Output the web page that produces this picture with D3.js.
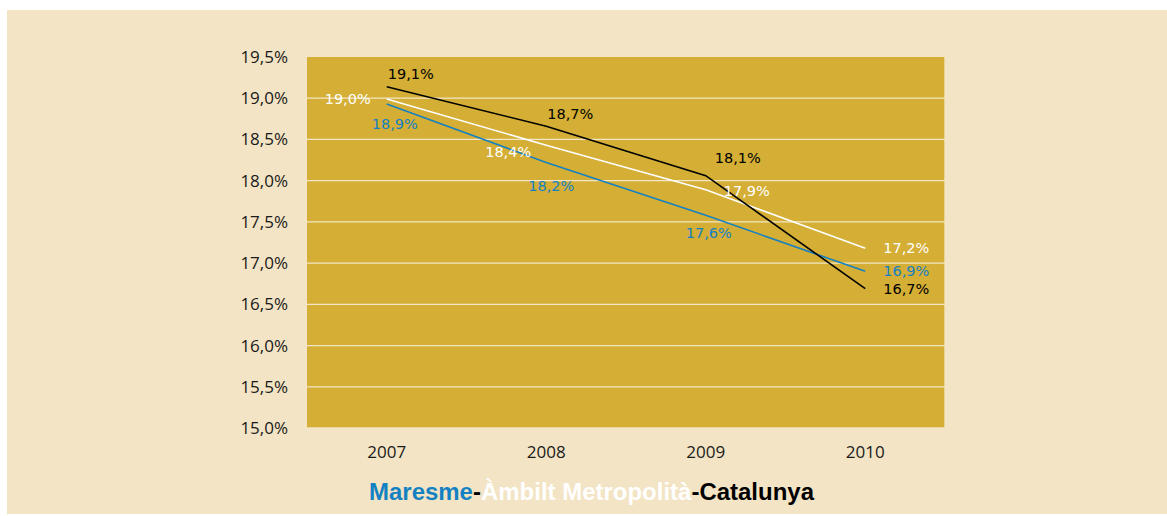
<!DOCTYPE html>
<html>
<head>
<meta charset="utf-8">
<script src="https://cdn.jsdelivr.net/npm/d3@7"></script>
<style>
  body { margin: 0; background: #fff; }
</style>
</head>
<body>
<script>
var width = 1167;
var height = 516;

// data
var years = ["2007", "2008", "2009", "2010"];
var catalunya = [19.14, 18.66, 18.06, 16.69];
var ambit = [18.99, 18.43, 17.89, 17.18];
var maresme = [18.93, 18.22, 17.58, 16.90];
var yTicks = [15.0, 15.5, 16.0, 16.5, 17.0, 17.5, 18.0, 18.5, 19.0, 19.5];

var svg = d3.select("body").append("svg").attr("width", width).attr("height", height);

// panel
svg.append("rect")
    .attr("x", 7).attr("y", 10)
    .attr("width", width - 7).attr("height", 504)
    .attr("fill", "#f2e4c4");

var plot = { left: 307, right: 945, top: 57, bottom: 428 };

var x = d3.scaleBand().domain(years).range([plot.left, plot.right]);
var y = d3.scaleLinear().domain([15, 19.5]).range([plot.bottom, plot.top]);

svg.append("rect")
    .attr("x", plot.left).attr("y", plot.top)
    .attr("width", plot.right - plot.left).attr("height", plot.bottom - plot.top)
    .attr("fill", "#d4ae35");

// gridlines
svg.selectAll(".grid").data(yTicks.slice(0, -1)).join("line")
    .attr("class", "grid")
    .attr("x1", plot.left).attr("x2", plot.right)
    .attr("y1", d => y(d)).attr("y2", d => y(d))
    .attr("stroke", "#f3e6c6")
    .attr("stroke-width", 1.3);

svg.append("line")
    .attr("x1", plot.right).attr("x2", plot.right)
    .attr("y1", plot.top).attr("y2", plot.bottom)
    .attr("stroke", "#f3e6c6").attr("stroke-width", 1.3);

var fmt = d => d.toFixed(1).replace(".", ",") + "%";

// y axis
var yAxis = svg.append("g")
    .attr("transform", "translate(" + (plot.left - 19) + ",0)")
    .call(d3.axisLeft(y).tickValues(yTicks).tickFormat(fmt).tickSize(0).tickPadding(0));
yAxis.select(".domain").remove();
yAxis.selectAll("text")
    .attr("fill", "#1a1a1a")
    .style("font-family", "'Open Sans', sans-serif")
    .style("font-size", "17px");

// x axis
var xAxis = svg.append("g")
    .attr("transform", "translate(0," + (plot.bottom + 18) + ")")
    .call(d3.axisBottom(x).tickSize(0).tickPadding(0));
xAxis.select(".domain").remove();
xAxis.selectAll("text")
    .attr("fill", "#1a1a1a")
    .style("font-family", "'Open Sans', sans-serif")
    .style("font-size", "17px");

var line = d3.line()
    .x((d, i) => x(years[i]) + x.bandwidth() / 2)
    .y(d => y(d));

var series = [
    { name: "maresme", values: maresme, color: "#1481c3",
      offs: [[-15, 21, "start"], [-18, 24, "start"], [-20, 19, "start"], [18, 1, "start"]] },
    { name: "ambit", values: ambit, color: "#ffffff",
      offs: [[-16, 1, "end"], [-15, 8, "end"], [18, 2, "start"], [18, 1, "start"]] },
    { name: "catalunya", values: catalunya, color: "#000000",
      offs: [[1, -12, "start"], [1, -11, "start"], [9, -17, "start"], [18, 1, "start"]] }
];

series.forEach(function(s) {
    svg.append("path")
        .datum(s.values)
        .attr("d", line)
        .attr("fill", "none")
        .attr("stroke", s.color)
        .attr("stroke-width", 1.6);
});

series.forEach(function(s) {
    svg.selectAll(".lbl-" + s.name).data(s.values).join("text")
        .attr("class", "lbl-" + s.name)
        .attr("x", (d, i) => x(years[i]) + x.bandwidth() / 2 + s.offs[i][0])
        .attr("y", (d, i) => y(d) + s.offs[i][1])
        .attr("text-anchor", (d, i) => s.offs[i][2])
        .attr("dominant-baseline", "middle")
        .attr("fill", s.color)
        .style("font-family", "'DejaVu Sans', sans-serif")
        .style("font-size", "14.5px")
        .text(d => fmt(d));
});

// legend
var legend = svg.append("text")
    .attr("x", 369).attr("y", 500)
    .attr("textLength", 445)
    .attr("lengthAdjust", "spacingAndGlyphs")
    .style("font-family", "'Liberation Sans Narrow', 'Liberation Sans', sans-serif")
    .style("font-weight", "bold")
    .style("font-size", "23px");
legend.append("tspan").attr("fill", "#1481c3").text("Maresme");
legend.append("tspan").attr("fill", "#000").text("-");
legend.append("tspan").attr("fill", "#fff").text("Àmbilt Metropolità");
legend.append("tspan").attr("fill", "#000").text("-Catalunya");
</script>
</body>
</html>
